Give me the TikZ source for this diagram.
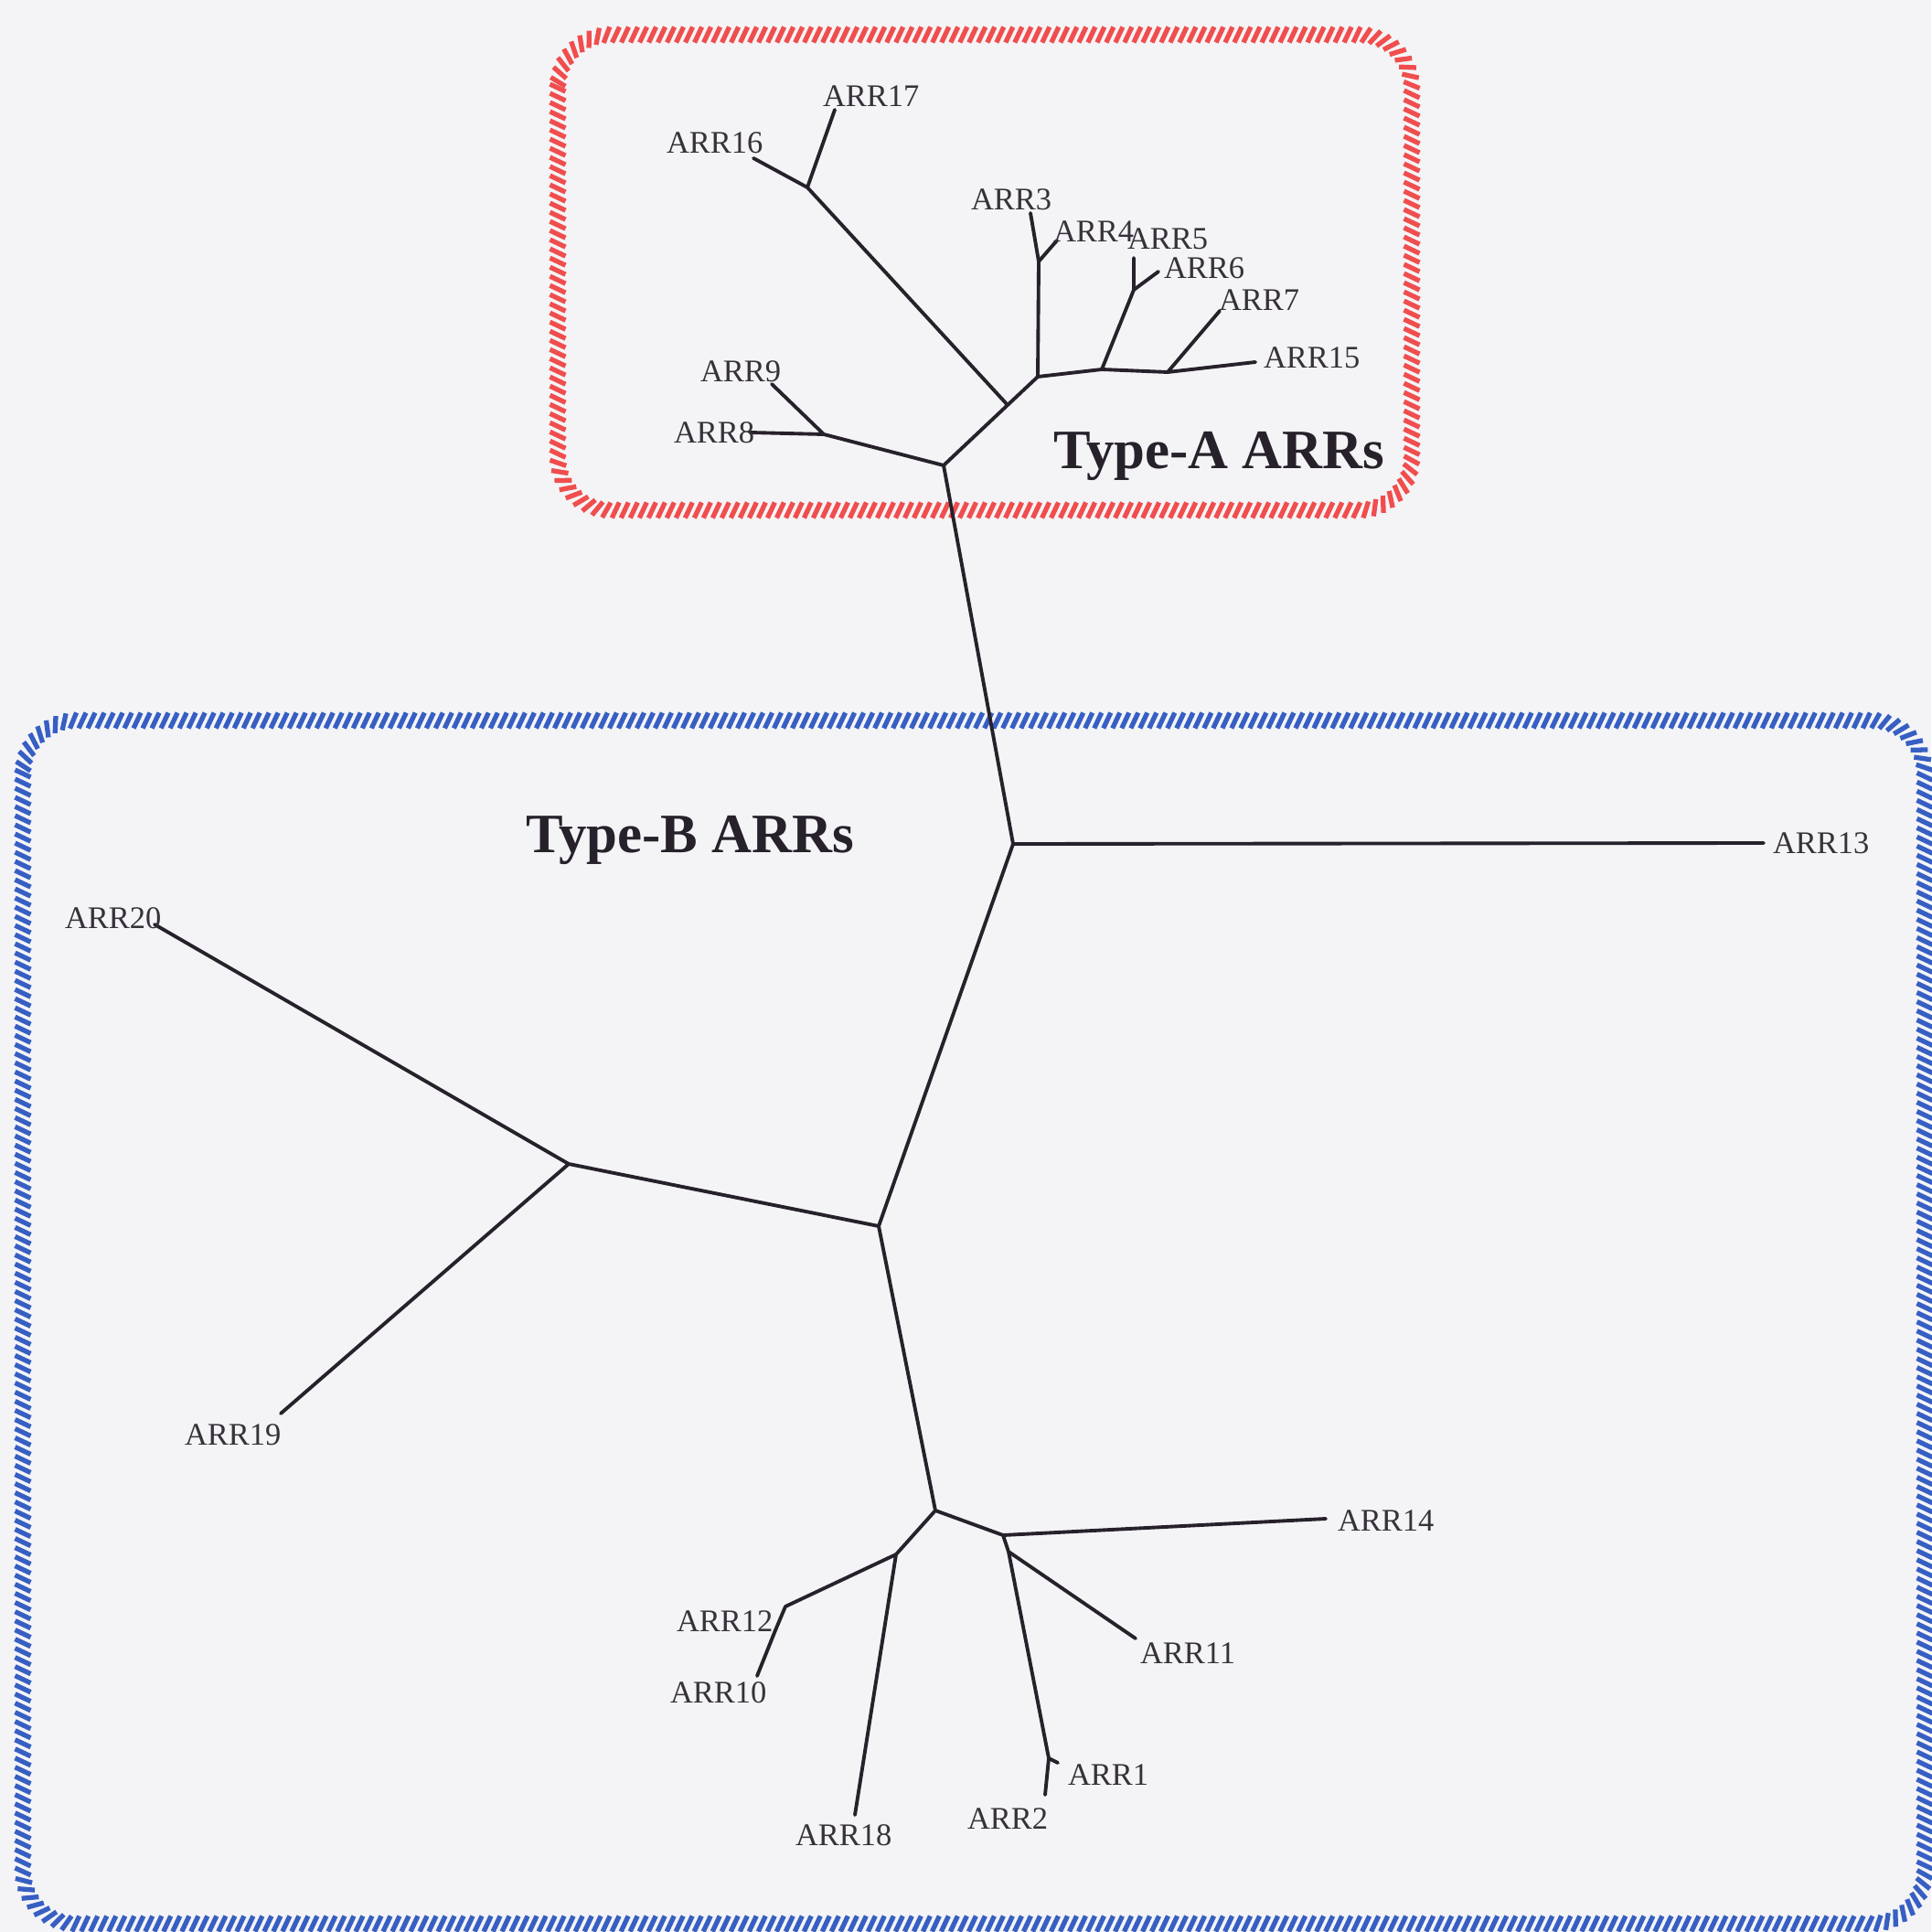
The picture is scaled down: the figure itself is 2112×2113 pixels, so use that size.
\documentclass[tikz,border=0pt]{standalone}
\usepackage{fontspec}
\setmainfont{Liberation Serif}
\usetikzlibrary{decorations.markings}
\definecolor{paper}{RGB}{244,244,246}
\definecolor{ink}{RGB}{38,33,42}
\definecolor{labink}{RGB}{55,50,58}
\definecolor{ropered}{RGB}{240,78,78}
\definecolor{ropeblue}{RGB}{55,95,195}
\tikzset{
  rope/.style={postaction={decorate,decoration={markings,
     mark=between positions 0 and 1 step 0.1cm with
     {\draw[#1,line width=1.5pt] (-0.04cm,-0.085cm) -- (0.04cm,0.085cm);}}}},
  branch/.style={draw=ink,line width=1.1pt,line cap=round,line join=round},
  lab/.style={anchor=base west,inner sep=0pt,outer sep=0pt,text=labink,
     font=\fontsize{9.8}{10}\selectfont},
  grouplab/.style={anchor=base west,inner sep=0pt,outer sep=0pt,text=ink,
     font=\fontsize{17.3}{18}\selectfont\bfseries},
}
\begin{document}
\begin{tikzpicture}[x=0.01cm,y=-0.01cm]
\fill[paper] (0,0) rectangle (2112,2113);
\useasboundingbox (0,0) rectangle (2112,2113);

% group frames
\path[rope=ropered, rounded corners=0.58cm] (610,38) rectangle (1544,558);
\path[rope=ropeblue, rounded corners=0.58cm] (25,788) rectangle (2105,2104);

% type-A clade: junctions and tips
\coordinate (RA) at (1032,509);
\coordinate (J1) at (1102,443);
\coordinate (J2) at (1135,412);
\coordinate (J34) at (1136,286);
\coordinate (t3) at (1127,233);
\coordinate (t4) at (1156,263);
\coordinate (J5) at (1205,404);
\coordinate (J56) at (1240,317);
\coordinate (t5) at (1240,282);
\coordinate (t6) at (1267,297);
\coordinate (J7) at (1277,407);
\coordinate (t7) at (1334,340);
\coordinate (t15) at (1373,396);
\coordinate (J16) at (883,205);
\coordinate (t16) at (824,173);
\coordinate (t17) at (913,120);
\coordinate (J89) at (901,475);
\coordinate (t9) at (844,420);
\coordinate (t8) at (820,473);

% type-B clade: junctions and tips
\coordinate (C) at (1108,923);
\coordinate (t13) at (1929,922);
\coordinate (D) at (961,1341);
\coordinate (E) at (622,1273);
\coordinate (t20) at (169,1011);
\coordinate (t19) at (307,1546);
\coordinate (F) at (1023,1652);
\coordinate (G) at (1097,1679);
\coordinate (H) at (1103,1697);
\coordinate (t14) at (1450,1661);
\coordinate (t11) at (1242,1792);
\coordinate (J12) at (1147,1923);
\coordinate (t1) at (1157,1928);
\coordinate (t2) at (1143,1963);
\coordinate (K) at (980,1700);
\coordinate (t18) at (935,1985);
\coordinate (L) at (859,1757);
\coordinate (M) at (848,1783);
\coordinate (t10) at (828,1833);

% branches
\path[branch]
  (RA) -- (J1) (J1) -- (J2) (J1) -- (J16) (J16) -- (t16) (J16) -- (t17)
  (J2) -- (J34) (J34) -- (t3) (J34) -- (t4)
  (J2) -- (J5) (J5) -- (J7) (J7) -- (t15) (J7) -- (t7)
  (J5) -- (J56) (J56) -- (t5) (J56) -- (t6)
  (RA) -- (J89) (J89) -- (t9) (J89) -- (t8)
  (RA) -- (C) (C) -- (t13) (C) -- (D) (D) -- (E) (E) -- (t20) (E) -- (t19)
  (D) -- (F) (F) -- (G) (G) -- (t14) (G) -- (H) (H) -- (t11)
  (H) -- (J12) (J12) -- (t1) (J12) -- (t2)
  (F) -- (K) (K) -- (t18) (K) -- (L) (L) -- (M) (M) -- (t10);

% leaf labels
\node[lab] (l17) at (900,117) {ARR17};
\node[lab] (l16) at (729,168) {ARR16};
\node[lab] (l3) at (1062,230) {ARR3};
\node[lab] (l4) at (1152,265) {ARR4};
\node[lab] (l5) at (1233,273) {ARR5};
\node[lab] (l6) at (1273,305) {ARR6};
\node[lab] (l7) at (1333,340) {ARR7};
\node[lab] (l15) at (1382,403) {ARR15};
\node[lab] (l9) at (766,418) {ARR9};
\node[lab] (l8) at (737,485) {ARR8};
\node[lab] (l13) at (1939,933) {ARR13};
\node[lab] (l20) at (71,1015) {ARR20};
\node[lab] (l19) at (202,1580) {ARR19};
\node[lab] (l14) at (1463,1674) {ARR14};
\node[lab] (l11) at (1247,1819) {ARR11};
\node[lab] (l1) at (1168,1952) {ARR1};
\node[lab] (l2) at (1058,2000) {ARR2};
\node[lab] (l18) at (870,2018) {ARR18};
\node[lab] (l12) at (740,1784) {ARR12};
\node[lab] (l10) at (733,1862) {ARR10};

% group titles
\node[grouplab] (typeA) at (1152,513) {Type-A ARRs};
\node[grouplab] (typeB) at (575,932) {Type-B ARRs};
\end{tikzpicture}
\end{document}
